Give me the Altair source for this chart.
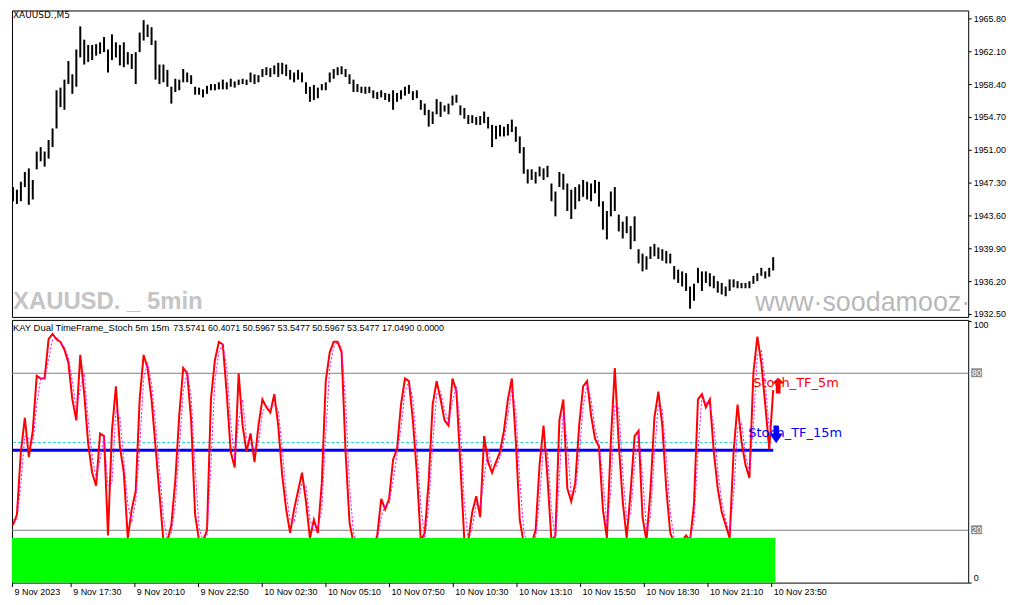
import json
import altair as alt
import pandas as pd

# ---------------- data ----------------
bar_index = list(range(193))

high = [1946.8,1946.5,1947.4,1948.5,1948.9,1947.6,1950.8,1951.3,1950.8,1952.1,
        1953.4,1957.7,1958.0,1958.9,1961.0,1959.5,1962.3,1964.9,1963.4,1962.8,
        1962.8,1962.9,1963.1,1963.7,1962.3,1964.0,1963.1,1962.8,1963.1,1962.0,
        1961.8,1962.0,1964.2,1965.6,1965.1,1964.8,1963.3,1960.6,1960.6,1960.0,
        1958.1,1959.0,1958.9,1960.1,1959.7,1959.4,1958.1,1958.0,1957.8,1958.2,
        1958.4,1958.4,1958.6,1958.9,1958.6,1959.0,1958.7,1958.9,1959.0,1958.9,
        1959.7,1959.5,1959.4,1960.1,1960.3,1960.2,1960.5,1960.8,1960.8,1960.6,
        1960.0,1959.7,1960.0,1959.7,1958.6,1958.1,1958.3,1958.0,1958.4,1958.6,
        1959.7,1960.1,1960.3,1960.4,1960.1,1959.5,1958.9,1958.4,1958.1,1958.1,
        1958.1,1957.7,1957.5,1957.7,1957.4,1957.3,1957.7,1957.4,1957.7,1958.1,
        1958.3,1957.6,1957.7,1956.6,1956.2,1955.5,1955.3,1956.7,1956.4,1956.0,
        1956.2,1957.1,1957.2,1956.0,1955.7,1954.9,1954.9,1954.7,1954.8,1955.3,
        1954.7,1953.8,1953.7,1953.8,1953.6,1953.9,1954.4,1953.6,1952.5,1951.3,
        1948.8,1948.8,1948.5,1949.1,1948.9,1949.2,1947.2,1946.3,1948.5,1948.3,
        1947.2,1946.5,1946.8,1947.1,1947.6,1947.4,1947.2,1947.6,1947.4,1945.2,
        1944.1,1946.3,1946.8,1943.7,1942.9,1943.5,1942.4,1943.5,1939.8,1939.3,
        1939.0,1940.1,1940.4,1940.0,1939.8,1939.6,1939.3,1937.9,1937.5,1937.3,
        1937.1,1935.6,1935.9,1937.7,1937.3,1937.3,1937.1,1936.8,1936.2,1936.0,
        1935.6,1936.4,1936.4,1936.2,1936.0,1936.0,1936.2,1936.8,1937.1,1937.7,
        1937.3,1937.7,1938.9]

low = [1945.2,1944.9,1945.2,1946.8,1944.8,1945.4,1948.8,1949.7,1949.1,1950.0,
       1951.3,1953.4,1955.8,1955.5,1958.4,1957.3,1958.1,1961.4,1960.6,1960.9,
       1961.1,1961.6,1961.8,1962.0,1959.7,1961.1,1961.4,1960.5,1960.3,1960.6,
       1960.1,1958.4,1962.0,1963.3,1963.7,1962.8,1958.9,1958.4,1958.6,1958.1,
       1956.2,1957.5,1957.7,1958.6,1958.6,1958.4,1957.2,1957.2,1956.9,1957.3,
       1957.7,1957.7,1957.8,1957.8,1957.8,1958.1,1958.0,1958.3,1958.4,1958.3,
       1958.6,1958.4,1958.6,1959.2,1959.4,1959.2,1959.5,1959.2,1959.5,1959.3,
       1958.9,1958.6,1958.9,1958.6,1957.3,1956.4,1956.6,1956.8,1957.7,1957.7,
       1958.6,1959.0,1959.4,1959.5,1959.2,1958.4,1957.5,1957.5,1957.4,1957.3,
       1957.4,1956.8,1956.7,1956.9,1956.6,1956.4,1955.5,1956.4,1956.7,1957.1,
       1957.3,1956.6,1956.8,1955.5,1954.9,1953.6,1953.9,1955.0,1954.7,1955.3,
       1955.0,1956.0,1956.3,1954.9,1954.5,1953.9,1954.0,1953.8,1953.8,1954.0,
       1953.4,1951.3,1952.2,1952.5,1952.5,1952.6,1953.0,1951.9,1950.6,1948.3,
       1947.2,1947.6,1947.2,1948.0,1947.6,1947.9,1945.2,1943.5,1946.8,1946.5,
       1944.1,1943.2,1944.3,1945.2,1945.7,1945.4,1945.2,1946.1,1944.6,1942.0,
       1940.9,1943.5,1944.1,1941.8,1941.0,1941.6,1939.8,1940.7,1938.2,1937.3,
       1937.5,1938.7,1939.0,1938.7,1938.5,1938.2,1938.2,1936.4,1936.0,1935.6,
       1935.1,1933.1,1934.0,1936.0,1935.1,1936.0,1935.6,1935.4,1934.9,1934.7,
       1934.5,1935.1,1935.5,1935.4,1935.4,1935.4,1935.4,1935.9,1936.2,1936.8,
       1936.5,1936.7,1937.4]

stoch_main = [22,26,50,63,48,58,79,78,78,93,
              95,93,92,89,84,70,62,87,72,53,
              42,37,57,56,18,58,75,52,42,17,
              28,35,70,87,82,70,52,34,16,16,
              22,39,64,82,80,62,26,16,16,20,
              70,85,92,91,72,50,44,80,60,50,
              57,46,60,70,67,65,72,60,41,28,
              19,28,35,42,31,17,24,19,38,77,
              88,92,92,88,50,23,15,14,14,16,
              16,14,18,32,28,32,47,51,68,78,
              77,62,42,16,19,39,68,77,70,62,
              60,78,73,45,16,16,27,33,25,56,
              46,42,46,50,58,70,78,54,24,15,
              14,15,20,45,60,40,16,18,62,70,
              36,31,38,60,75,77,64,55,52,28,
              17,54,82,53,31,17,35,56,58,25,
              16,35,63,73,60,36,19,15,14,16,
              18,16,30,70,72,67,70,50,36,27,
              22,17,50,68,54,45,40,80,94,84,
              68,51,73.5741]

stoch_signal = [24,24,38,56,55,53,68,78,78,85,
                93,94,92,90,86,77,66,74,80,62,
                48,40,47,56,37,38,66,63,47,30,
                23,31,52,78,84,76,61,43,25,16,
                19,30,51,73,81,71,44,21,16,18,
                45,77,88,91,82,61,47,62,70,55,
                53,51,53,65,68,66,68,66,51,34,
                24,23,31,38,37,24,20,21,28,57,
                82,90,92,90,69,37,19,14,14,15,
                16,15,16,25,30,30,39,49,59,73,
                77,70,52,29,17,29,53,72,73,66,
                61,69,75,59,30,16,21,30,29,40,
                51,44,44,48,54,64,74,66,39,20,
                14,14,17,32,52,50,28,17,40,66,
                53,33,34,49,67,76,70,59,53,40,
                22,35,68,67,42,24,26,45,57,41,
                20,25,49,68,66,48,27,17,14,15,
                17,17,23,50,71,69,68,60,43,31,
                24,19,33,59,61,49,42,60,87,89,
                76,59,60.4071]

tf15_main = 50.5967
tf15_signal = 53.5477
hist_level = 17.0490
level_lines = [20, 80]

price_ticks = [1932.5, 1936.2, 1939.9, 1943.6, 1947.3, 1951.0, 1954.7, 1958.4, 1962.1, 1965.8]
stoch_ticks = [0, 100]
time_labels = ["9 Nov 2023", "9 Nov 17:30", "9 Nov 20:10", "9 Nov 22:50", "10 Nov 02:30",
               "10 Nov 05:10", "10 Nov 07:50", "10 Nov 10:30", "10 Nov 13:10", "10 Nov 15:50",
               "10 Nov 18:30", "10 Nov 21:10", "10 Nov 23:50"]
time_tick_index = [-0.25, 14.58, 30.66, 46.74, 62.83, 78.91, 94.99, 111.08,
                   127.16, 143.24, 159.33, 175.41, 191.49]

header_name = "KAY Dual TimeFrame_Stoch 5m 15m"
header_values = "73.5741 60.4071 50.5967 53.5477 50.5967 53.5477 17.0490 0.0000"

# ---------------- layout ----------------
W = 961
H_TOP = 308
H_BOT = 264
FONT = "Liberation Sans"

xscale = alt.Scale(domain=[-0.25, 241.25], nice=False, zero=False)
pscale = alt.Scale(domain=[1932.17, 1966.69], nice=False, zero=False)
sscale = alt.Scale(domain=[0, 100.38], nice=False, zero=False)

one = pd.DataFrame({"k": [0]})

price_df = pd.DataFrame({"i": bar_index, "high": high, "low": low})
stoch_df = pd.DataFrame({"i": bar_index, "main": stoch_main, "signal": stoch_signal})
level_df = pd.DataFrame({"lv": level_lines})

price_axis = alt.Axis(orient="right", values=price_ticks, format=".2f", title=None,
                      grid=False, domain=False, tickColor="black", tickSize=3,
                      labelPadding=2, labelFont=FONT, labelFontSize=9, labelColor="black",
                      labelOverlap=False)

bars = alt.Chart(price_df).mark_rule(color="black", strokeWidth=2).encode(
    x=alt.X("i:Q", scale=xscale, axis=None),
    y=alt.Y("high:Q", scale=pscale, axis=price_axis),
    y2="low:Q",
)

sym_label = alt.Chart(one).mark_text(align="left", baseline="middle", font="DejaVu Sans",
                                     fontSize=9, color="black").encode(
    x=alt.value(1), y=alt.value(5), text=alt.value("XAUUSD.,M5"))

wm_left = alt.Chart(one).mark_text(align="left", baseline="alphabetic", font="Liberation Sans",
                                   fontWeight="bold", fontSize=24, color="#c4c4c4").encode(
    x=alt.value(1), y=alt.value(300), text=alt.value("XAUUSD. _ 5min"))

wm_right = alt.Chart(one).mark_text(align="left", baseline="alphabetic", font="Liberation Sans",
                                    fontSize=27, color="#b8b8b8", clip=True).encode(
    x=alt.value(747), y=alt.value(302), text=alt.value("www\u00b7soodamooz\u00b7com"))

top = alt.layer(bars, sym_label, wm_left, wm_right).properties(width=W, height=H_TOP)

# bottom panel
stoch_axis = alt.Axis(orient="right", values=stoch_ticks, title=None, grid=False, domain=False,
                      tickColor="black", tickSize=3, labelPadding=2, labelFont=FONT,
                      labelFontSize=9, labelColor="black", labelFlush=4, labelOverlap=False)

time_axis = alt.Axis(orient="bottom", values=time_tick_index, title=None, grid=False, domain=False,
                     tickColor="black", tickSize=4, labelPadding=1, labelOffset=2,
                     labelAlign="left", labelBaseline="top", labelFont=FONT, labelFontSize=9,
                     labelColor="black", labelFlush=False, labelOverlap=False, labelBound=False,
                     labelExpr=json.dumps(time_labels) + "[round((datum.value + 0.25) / 16)]")

levels = alt.Chart(level_df).mark_rule(color="#808080", strokeWidth=1).encode(
    y=alt.Y("lv:Q", scale=sscale, axis=stoch_axis))

cyan = alt.Chart(one).mark_rule(color="#22d3d3", strokeWidth=1, strokeDash=[3, 2]).encode(
    x=alt.X(datum=0, scale=xscale), x2=alt.datum(192),
    y=alt.Y(datum=tf15_signal, scale=sscale))

blue = alt.Chart(one).mark_rule(color="#0000ff", strokeWidth=3).encode(
    x=alt.X(datum=0, scale=xscale), x2=alt.datum(192),
    y=alt.Y(datum=tf15_main, scale=sscale))

main_line = alt.Chart(stoch_df).mark_line(color="#ff0000", strokeWidth=2).encode(
    x=alt.X("i:Q", scale=xscale, axis=time_axis),
    y=alt.Y("main:Q", scale=sscale))

signal_line = alt.Chart(stoch_df).mark_line(color="#ff00ff", strokeWidth=1, strokeDash=[2, 2]).encode(
    x=alt.X("i:Q", scale=xscale),
    y=alt.Y("signal:Q", scale=sscale))

green = alt.Chart(one).mark_rect(color="#00ff00", opacity=1).encode(
    x=alt.X(datum=-0.25, scale=xscale), x2=alt.datum(192.5),
    y=alt.Y(datum=0, scale=sscale), y2=alt.datum(hist_level))

lvl_box = alt.Chart(level_df).mark_rect(color="#8c8c8c", yOffset=-5, y2Offset=4).encode(
    x=alt.value(W + 3), x2=alt.value(W + 14),
    y=alt.Y("lv:Q", scale=sscale), y2="lv:Q")

lvl_text = alt.Chart(level_df).mark_text(color="white", font=FONT, fontSize=8.5,
                                         align="center", baseline="middle").encode(
    x=alt.value(W + 8.5), y=alt.Y("lv:Q", scale=sscale), text=alt.Text("lv:Q"))

hdr1 = alt.Chart(one).mark_text(align="left", baseline="middle", font=FONT, fontSize=9.5,
                                color="black").encode(
    x=alt.value(1), y=alt.value(8), text=alt.value(header_name))
hdr2 = alt.Chart(one).mark_text(align="left", baseline="middle", font=FONT, fontSize=9,
                                color="black").encode(
    x=alt.value(162), y=alt.value(8), text=alt.value(header_values))

lbl5 = alt.Chart(one).mark_text(align="left", baseline="middle", font="DejaVu Sans", fontSize=13,
                                color="#ff0000").encode(
    x=alt.value(745), y=alt.value(63), text=alt.value("Stoch_TF_5m"))
lbl15 = alt.Chart(one).mark_text(align="left", baseline="middle", font="DejaVu Sans", fontSize=13,
                                 color="#0000ff").encode(
    x=alt.value(740), y=alt.value(114), text=alt.value("Stoch_TF_15m"))

up_path = "M0,-1L0.8,-0.25L0.3,-0.25L0.3,1L-0.3,1L-0.3,-0.25L-0.8,-0.25Z"
down_path = "M0,1L0.75,-0.1L0.3,-0.1L0.3,-1L-0.3,-1L-0.3,-0.1L-0.75,-0.1Z"
arrow_up = alt.Chart(one).mark_point(shape=up_path, filled=True, size=256, color="#ff0000",
                                     opacity=1, strokeWidth=0).encode(
    x=alt.value(770), y=alt.value(66))
arrow_dn = alt.Chart(one).mark_point(shape=down_path, filled=True, size=324, color="#0000ff",
                                     opacity=1, strokeWidth=0).encode(
    x=alt.value(768), y=alt.value(115))

bottom = alt.layer(levels, cyan, blue, main_line, signal_line, green, lvl_box, lvl_text,
                   hdr1, hdr2, lbl5, lbl15, arrow_up, arrow_dn).properties(width=W, height=H_BOT)

chart = alt.vconcat(top, bottom, spacing=3, bounds="flush").properties(
    padding={"left": 0, "top": 0, "right": 0, "bottom": 0},
    background="white",
).configure_view(stroke="black", strokeWidth=1)

chart.save("out.html", embed_options={"renderer": "svg", "actions": False})
